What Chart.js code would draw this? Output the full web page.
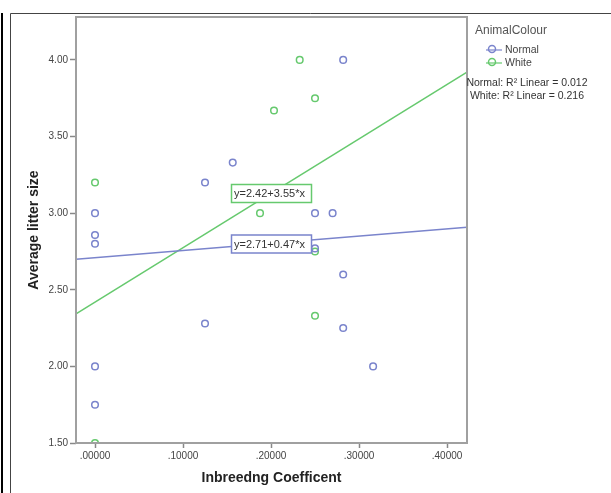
<!DOCTYPE html>
<html>
<head>
<meta charset="utf-8">
<script src="https://cdn.jsdelivr.net/npm/chart.js@4.4.1/dist/chart.umd.min.js"></script>
<style>
  body { margin: 0; background: #fff; }
  canvas { display: block; }
</style>
</head>
<body>
<canvas id="chart" width="611" height="493"></canvas>
<script>
// inbreeding coefficient vs average litter size, by animal colour
var normalX = [0, 0, 0, 0, 0, 0.125, 0.125, 0.1565, 0.25, 0.27, 0.25, 0.282, 0.282, 0.282, 0.316];
var normalY = [3.00, 2.857, 2.80, 2.00, 1.75, 3.20, 2.28, 3.33, 3.00, 3.00, 2.77, 4.00, 2.60, 2.25, 2.00];
var whiteX = [0, 0, 0.1875, 0.2034, 0.2326, 0.25, 0.25, 0.25];
var whiteY = [3.20, 1.50, 3.00, 3.67, 4.00, 3.75, 2.75, 2.33];

// fit lines y = a + b*x
var normalFit = [2.71, 0.47];
var whiteFit = [2.42, 3.55];
var normalR2 = "0.012";
var whiteR2 = "0.216";

var xTicks = [0, 0.1, 0.2, 0.3, 0.4];
var yTicks = [1.5, 2.0, 2.5, 3.0, 3.5, 4.0];
var xMin = -0.0216, xMax = 0.4227;
var yMin = 1.5, yMax = 4.28;

var BLUE = '#7a84cc';
var GREEN = '#66c96e';
var FONT = '"Liberation Sans", Arial, sans-serif';

function pts(xs, ys) {
    var out = [];
    for (var i = 0; i < xs.length; i++) out.push({x: xs[i], y: ys[i]});
    return out;
}
function fitLine(f) {
    return [{x: xMin, y: f[0] + f[1] * xMin}, {x: xMax, y: f[0] + f[1] * xMax}];
}

var extras = {
    id: 'extras',
    beforeDraw: function(chart) {
        var ctx = chart.ctx;
        ctx.save();
        ctx.fillStyle = '#fff';
        ctx.fillRect(0, 0, chart.width, chart.height);
        // black bar on the far left
        ctx.fillStyle = '#000';
        ctx.fillRect(1, 13, 2, 480);
        // outer frame
        ctx.strokeStyle = '#444';
        ctx.lineWidth = 1;
        ctx.beginPath();
        ctx.moveTo(10.5, 493);
        ctx.lineTo(10.5, 13.5);
        ctx.lineTo(611, 13.5);
        ctx.stroke();
        ctx.restore();
    },
    afterDatasetsDraw: function(chart) {
        var ctx = chart.ctx;
        var a = chart.chartArea;
        ctx.save();
        // plot frame
        ctx.strokeStyle = '#a0a0a0';
        ctx.lineWidth = 2;
        ctx.strokeRect(a.left, a.top, a.right - a.left, a.bottom - a.top);

        // equation boxes
        function box(text, col, yc) {
            var x0 = 231, w = 80, h = 18;
            ctx.fillStyle = '#fff';
            ctx.fillRect(x0, yc - h / 2, w, h);
            ctx.strokeStyle = col;
            ctx.lineWidth = 1.5;
            ctx.strokeRect(x0 + 0.5, yc - h / 2 + 0.5, w, h);
            ctx.fillStyle = '#333';
            ctx.font = '11px ' + FONT;
            ctx.textBaseline = 'middle';
            ctx.textAlign = 'left';
            ctx.fillText(text, x0 + 3, yc + 1);
        }
        box('y=' + whiteFit[0].toFixed(2) + '+' + whiteFit[1].toFixed(2) + '*x', GREEN, 193);
        box('y=' + normalFit[0].toFixed(2) + '+' + normalFit[1].toFixed(2) + '*x', BLUE, 243.5);

        // legend
        ctx.fillStyle = '#555';
        ctx.font = '12px ' + FONT;
        ctx.textAlign = 'left';
        ctx.textBaseline = 'middle';
        ctx.fillText('AnimalColour', 475, 31);
        function item(label, col, y) {
            ctx.strokeStyle = col;
            ctx.lineWidth = 1.2;
            ctx.beginPath();
            ctx.moveTo(486, y);
            ctx.lineTo(502, y);
            ctx.stroke();
            ctx.lineWidth = 1.5;
            ctx.beginPath();
            ctx.arc(492, y - 1, 3.5, 0, Math.PI * 2);
            ctx.stroke();
            ctx.fillStyle = '#444';
            ctx.font = '10.5px ' + FONT;
            ctx.fillText(label, 505, y);
        }
        item('Normal', BLUE, 50);
        item('White', GREEN, 63);
        ctx.fillStyle = '#333';
        ctx.font = '10.5px ' + FONT;
        ctx.textAlign = 'center';
        ctx.fillText('Normal: R\u00b2 Linear = ' + normalR2, 527, 83);
        ctx.fillText('White: R\u00b2 Linear = ' + whiteR2, 527, 96);
        ctx.restore();
    }
};

var chart = new Chart(document.getElementById('chart'), {
    type: 'scatter',
    data: {
        datasets: [
            {label: 'Normal', data: pts(normalX, normalY), borderColor: BLUE, backgroundColor: 'rgba(0,0,0,0)',
             pointRadius: 3.3, borderWidth: 1.5, order: 1},
            {label: 'White', data: pts(whiteX, whiteY), borderColor: GREEN, backgroundColor: 'rgba(0,0,0,0)',
             pointRadius: 3.3, borderWidth: 1.5, order: 1},
            {type: 'line', label: 'Normal fit', data: fitLine(normalFit), borderColor: BLUE, borderWidth: 1.5,
             pointRadius: 0, fill: false, order: 2},
            {type: 'line', label: 'White fit', data: fitLine(whiteFit), borderColor: GREEN, borderWidth: 1.5,
             pointRadius: 0, fill: false, order: 2}
        ]
    },
    options: {
        responsive: false,
        animation: false,
        events: [],
        layout: {padding: {left: 0, top: 17, right: 144, bottom: 0}},
        plugins: {legend: {display: false}, tooltip: {enabled: false}},
        scales: {
            x: {
                type: 'linear', min: xMin, max: xMax,
                afterBuildTicks: function(s) { s.ticks = xTicks.map(function(v) { return {value: v}; }); },
                afterFit: function(s) { s.height = 50; },
                grid: {drawOnChartArea: false, tickLength: 5, tickColor: '#888', tickWidth: 1.5},
                border: {display: false},
                ticks: {
                    padding: 2, color: '#444', font: {family: FONT, size: 10}, maxRotation: 0,
                    callback: function(v) { return '.' + String(Math.round(v * 100000)).padStart(5, '0'); }
                },
                title: {display: true, text: 'Inbreedng Coefficent', color: '#222',
                        font: {family: FONT, size: 14, weight: 'bold'}, padding: {top: 0, bottom: 6}}
            },
            y: {
                type: 'linear', min: yMin, max: yMax,
                afterBuildTicks: function(s) { s.ticks = yTicks.map(function(v) { return {value: v}; }); },
                afterFit: function(s) { s.width = 76; },
                grid: {drawOnChartArea: false, tickLength: 6, tickColor: '#888', tickWidth: 1.5},
                border: {display: false},
                ticks: {
                    padding: 2, color: '#444', font: {family: FONT, size: 10},
                    callback: function(v) { return v.toFixed(2); }
                },
                title: {display: true, text: 'Average litter size', color: '#222',
                        font: {family: FONT, size: 14, weight: 'bold'}, padding: {top: 26, bottom: 0}}
            }
        }
    },
    plugins: [extras]
});
</script>
</body>
</html>
